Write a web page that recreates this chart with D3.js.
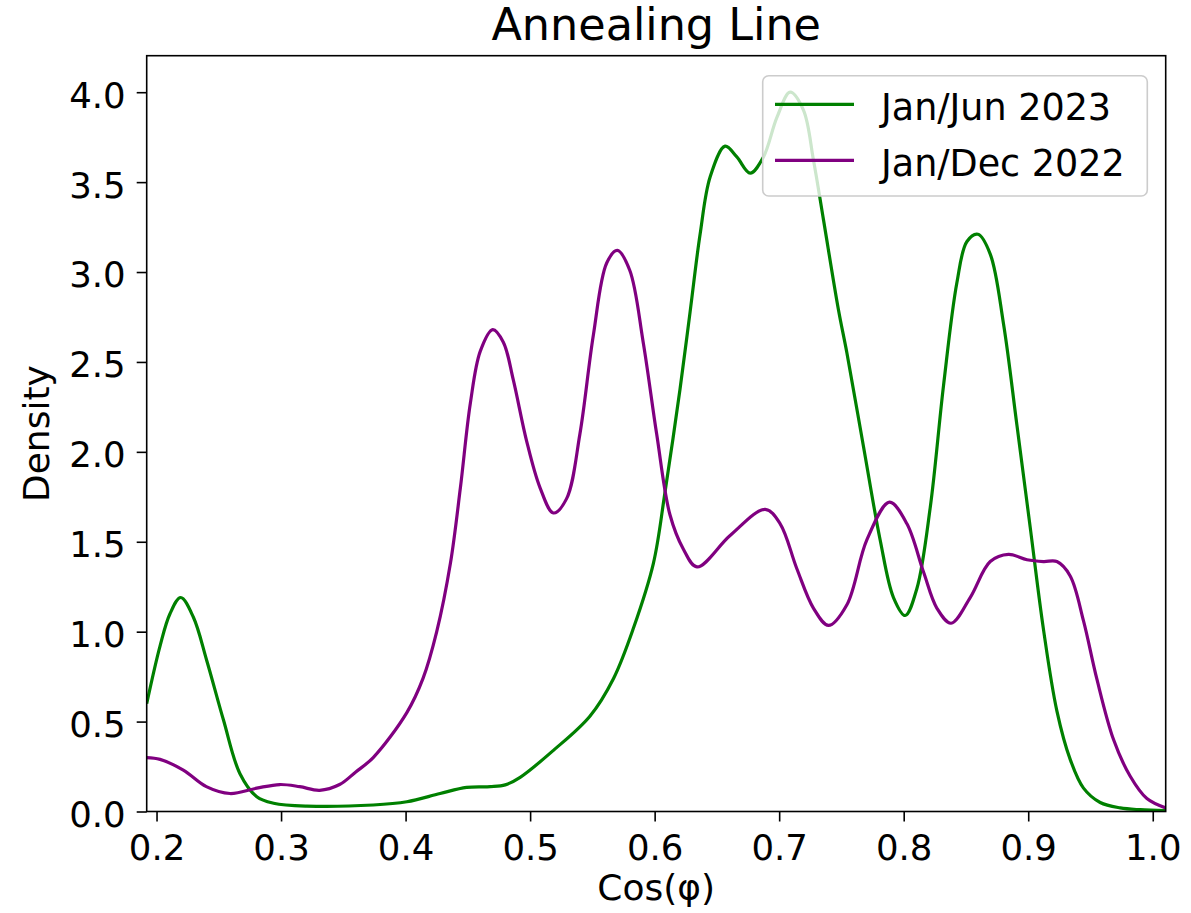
<!DOCTYPE html>
<html>
<head>
<meta charset="utf-8">
<script src="https://cdn.jsdelivr.net/npm/d3@7"></script>
<style>
  body { margin: 0; background: #fff; }
  text { font-family: "DejaVu Sans", sans-serif; fill: #000; }
</style>
</head>
<body>
<script>
// Density curves of cos(phi)

// Jan/Jun 2023 curve (green)
let xJun2023 = [0.1921, 0.2028, 0.2108, 0.2194, 0.2296, 0.2403, 0.2537, 0.267, 0.2805, 0.294,
  0.3206, 0.374, 0.401, 0.4277, 0.449, 0.468, 0.48, 0.492, 0.5187, 0.548,
  0.567, 0.583, 0.599, 0.6084, 0.6204, 0.6285, 0.6365, 0.6446, 0.6566, 0.666,
  0.6767, 0.6874, 0.6982, 0.7088, 0.7195, 0.7276, 0.7356, 0.7476, 0.7544, 0.7677,
  0.7811, 0.7918, 0.8012, 0.8106, 0.8213, 0.832, 0.8427, 0.8508, 0.8596, 0.8695,
  0.8802, 0.8909, 0.9016, 0.9123, 0.923, 0.9337, 0.9444, 0.9578, 0.9739, 0.99, 1.0104];
let yJun2023 = [0.60, 0.92, 1.10, 1.19, 1.08, 0.84, 0.51, 0.21, 0.082, 0.046,
  0.03, 0.036, 0.054, 0.10, 0.134, 0.138, 0.148, 0.19, 0.34, 0.53,
  0.74, 1.02, 1.38, 1.78, 2.35, 2.78, 3.21, 3.53, 3.70, 3.64,
  3.55, 3.64, 3.86, 4.0, 3.90, 3.62, 3.29, 2.79, 2.55, 2.03,
  1.51, 1.19, 1.09, 1.24, 1.69, 2.37, 2.94, 3.17, 3.21, 3.10,
  2.71, 2.15, 1.58, 1.01, 0.56, 0.29, 0.13, 0.05, 0.02, 0.01, 0.005];

// Jan/Dec 2022 curve (purple)
let xDec2022 = [0.1921, 0.2028, 0.2215, 0.24, 0.259, 0.2805, 0.299, 0.315, 0.331, 0.347,
  0.36, 0.374, 0.401, 0.414, 0.425, 0.436, 0.444, 0.452, 0.46, 0.470,
  0.4785, 0.4865, 0.4972, 0.508, 0.5187, 0.5293, 0.54, 0.5508, 0.5615, 0.570,
  0.580, 0.5908, 0.6016, 0.6123, 0.623, 0.634, 0.6606, 0.6888, 0.7008, 0.7142,
  0.7276, 0.7396, 0.7544, 0.7704, 0.7886, 0.8026, 0.816, 0.8267, 0.838, 0.8534,
  0.8695, 0.8842, 0.899, 0.9123, 0.923, 0.9337, 0.9444, 0.955, 0.9685, 0.9819,
  0.9953, 1.0104];
let yDec2022 = [0.30, 0.29, 0.23, 0.138, 0.10, 0.13, 0.15, 0.138, 0.118, 0.15,
  0.22, 0.30, 0.55, 0.74, 1.0, 1.38, 1.80, 2.27, 2.56, 2.68,
  2.61, 2.40, 2.06, 1.80, 1.66, 1.74, 2.10, 2.65, 3.05, 3.12,
  3.01, 2.61, 2.10, 1.65, 1.46, 1.36, 1.535, 1.68, 1.60, 1.35,
  1.13, 1.035, 1.15, 1.51, 1.72, 1.60, 1.33, 1.13, 1.047, 1.19,
  1.39, 1.43, 1.40, 1.39, 1.39, 1.31, 1.06, 0.74, 0.40, 0.196,
  0.072, 0.02];

let seriesNames = ["Jan/Jun 2023", "Jan/Dec 2022"];
let xTicks = [0.2, 0.3, 0.4, 0.5, 0.6, 0.7, 0.8, 0.9, 1.0];
let yTicks = [0, 0.5, 1.0, 1.5, 2.0, 2.5, 3.0, 3.5, 4.0];

//////////////////////////////////////////////////////////////////////////////
// Canvas and plot area
let width = 1191;
let height = 913;
let plotLeft = 146.7, plotRight = 1165.7, plotTop = 55.7, plotBottom = 811.5;
let fontSize = 35.5;
let colors = ["green", "purple"];

let svg = d3.select("body").append("svg")
  .attr("width", width)
  .attr("height", height);

let x = d3.scaleLinear()
  .domain([0.1921, 1.0104])
  .range([plotLeft, plotRight]);

let y = d3.scaleLinear()
  .domain([0, 4.203])
  .range([plotBottom, plotTop]);

svg.append("clipPath")
  .attr("id", "plotclip")
  .append("rect")
  .attr("x", plotLeft)
  .attr("y", plotTop)
  .attr("width", plotRight - plotLeft)
  .attr("height", plotBottom - plotTop);

// the two curves
let series = [
  xJun2023.map((d, i) => [d, yJun2023[i]]),
  xDec2022.map((d, i) => [d, yDec2022[i]])
];

let line = d3.line()
  .x(d => x(d[0]))
  .y(d => y(d[1]))
  .curve(d3.curveCatmullRom.alpha(0.5));

svg.append("g")
  .attr("clip-path", "url(#plotclip)")
  .selectAll("path")
  .data(series)
  .join("path")
  .attr("d", line)
  .attr("fill", "none")
  .attr("stroke", (d, i) => colors[i])
  .attr("stroke-width", 3.2)
  .attr("stroke-linejoin", "round");

// axes
let xAxis = d3.axisBottom(x)
  .tickValues(xTicks)
  .tickFormat(d3.format(".1f"))
  .tickSize(10)
  .tickPadding(13);

let yAxis = d3.axisLeft(y)
  .tickValues(yTicks)
  .tickFormat(d3.format(".1f"))
  .tickSize(10)
  .tickPadding(11);

let gx = svg.append("g")
  .attr("transform", `translate(0,${plotBottom})`)
  .call(xAxis);
let gy = svg.append("g")
  .attr("transform", `translate(${plotLeft},0)`)
  .call(yAxis);

[gx, gy].forEach(g => {
  g.select(".domain").remove();
  g.selectAll(".tick line").attr("stroke", "#000").attr("stroke-width", 1.6);
  g.selectAll(".tick text")
    .attr("fill", "#000")
    .style("font-family", "DejaVu Sans")
    .style("font-size", fontSize + "px");
});
gy.selectAll(".tick text").attr("dy", "0.42em");

// frame
svg.append("rect")
  .attr("x", plotLeft)
  .attr("y", plotTop)
  .attr("width", plotRight - plotLeft)
  .attr("height", plotBottom - plotTop)
  .attr("fill", "none")
  .attr("stroke", "#000")
  .attr("stroke-width", 1.6);

// labels
svg.append("text")
  .attr("x", (plotLeft + plotRight) / 2)
  .attr("y", 40)
  .attr("text-anchor", "middle")
  .style("font-size", "44.5px")
  .text("Annealing Line");

svg.append("text")
  .attr("x", (plotLeft + plotRight) / 2)
  .attr("y", 900)
  .attr("text-anchor", "middle")
  .style("font-size", "36px")
  .text("Cos(φ)");

svg.append("text")
  .attr("transform", `translate(49,${(plotTop + plotBottom) / 2}) rotate(-90)`)
  .attr("text-anchor", "middle")
  .style("font-size", "36px")
  .text("Density");

// legend
let legend = svg.append("g");
legend.append("rect")
  .attr("x", 762.7)
  .attr("y", 75.7)
  .attr("width", 384.6)
  .attr("height", 120.3)
  .attr("rx", 6)
  .attr("fill", "rgba(255,255,255,0.8)")
  .attr("stroke", "#cccccc")
  .attr("stroke-width", 1.6);

let items = legend.selectAll(".item")
  .data(seriesNames)
  .join("g")
  .attr("class", "item")
  .attr("transform", (d, i) => `translate(0,${104.3 + i * 56})`);

items.append("line")
  .attr("x1", 775)
  .attr("x2", 854)
  .attr("stroke", (d, i) => colors[i])
  .attr("stroke-width", 3.2);

items.append("text")
  .attr("x", 881)
  .attr("y", 16)
  .style("font-size", "36.5px")
  .text(d => d);
</script>
</body>
</html>
